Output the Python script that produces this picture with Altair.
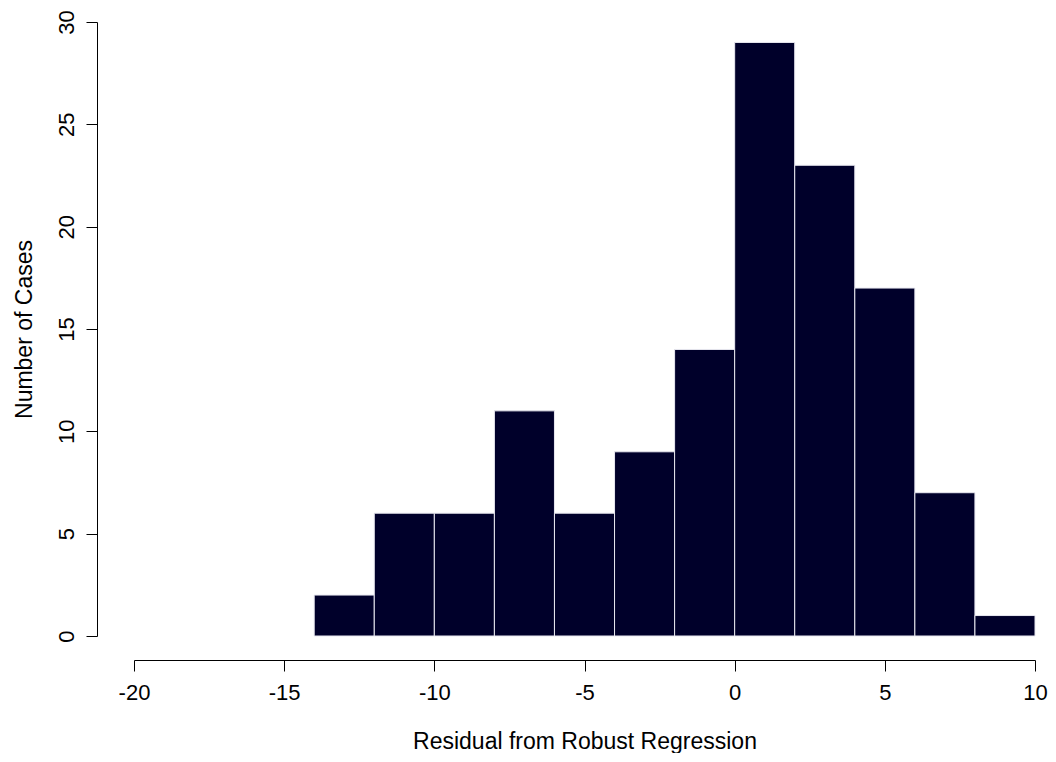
import altair as alt
import pandas as pd

bin_start = [-14, -12, -10, -8, -6, -4, -2, 0, 2, 4, 6, 8]
bin_end = [-12, -10, -8, -6, -4, -2, 0, 2, 4, 6, 8, 10]
counts = [2, 6, 6, 11, 6, 9, 14, 29, 23, 17, 7, 1]

x_ticks = [-20, -15, -10, -5, 0, 5, 10]
y_ticks = [0, 5, 10, 15, 20, 25, 30]

df = pd.DataFrame({"start": bin_start, "end": bin_end, "count": counts})

FONT = "Liberation Sans"

chart = alt.Chart(df).mark_rect(
    color="#00002A", stroke="#E8E8F0", strokeWidth=1
).encode(
    x=alt.X(
        "start:Q",
        scale=alt.Scale(domain=[-20, 10], nice=False, zero=False),
        axis=alt.Axis(
            title="Residual from Robust Regression",
            values=x_ticks,
            labelExpr="'' + datum.value",
            offset=24,
            tickSize=11,
            labelPadding=11,
            titlePadding=27,
        ),
    ),
    x2="end:Q",
    y=alt.Y(
        "count:Q",
        scale=alt.Scale(domain=[0, 30], nice=False),
        axis=alt.Axis(
            title="Number of Cases",
            values=y_ticks,
            labelExpr="'' + datum.value",
            offset=37,
            tickSize=11,
            labelAngle=270,
            labelAlign="center",
            labelBaseline="bottom",
            labelPadding=8,
            titlePadding=19,
        ),
    ),
    y2=alt.Y2(datum=0),
).properties(
    width=901,
    height=614,
    autosize=alt.AutoSizeParams(type="none"),
    padding={"left": 126, "top": 14, "right": 13, "bottom": 117},
).configure_view(
    stroke=None
).configure_axis(
    grid=False,
    domainColor="black",
    tickColor="black",
    domainWidth=1,
    tickWidth=1,
    labelColor="black",
    titleColor="black",
    labelFont=FONT,
    titleFont=FONT,
    labelFontSize=22,
    titleFontSize=23,
    titleFontWeight="normal",
    labelFlush=False,
    labelOverlap=False,
)

chart.save("out.html", embed_options={"renderer": "svg", "actions": False})
